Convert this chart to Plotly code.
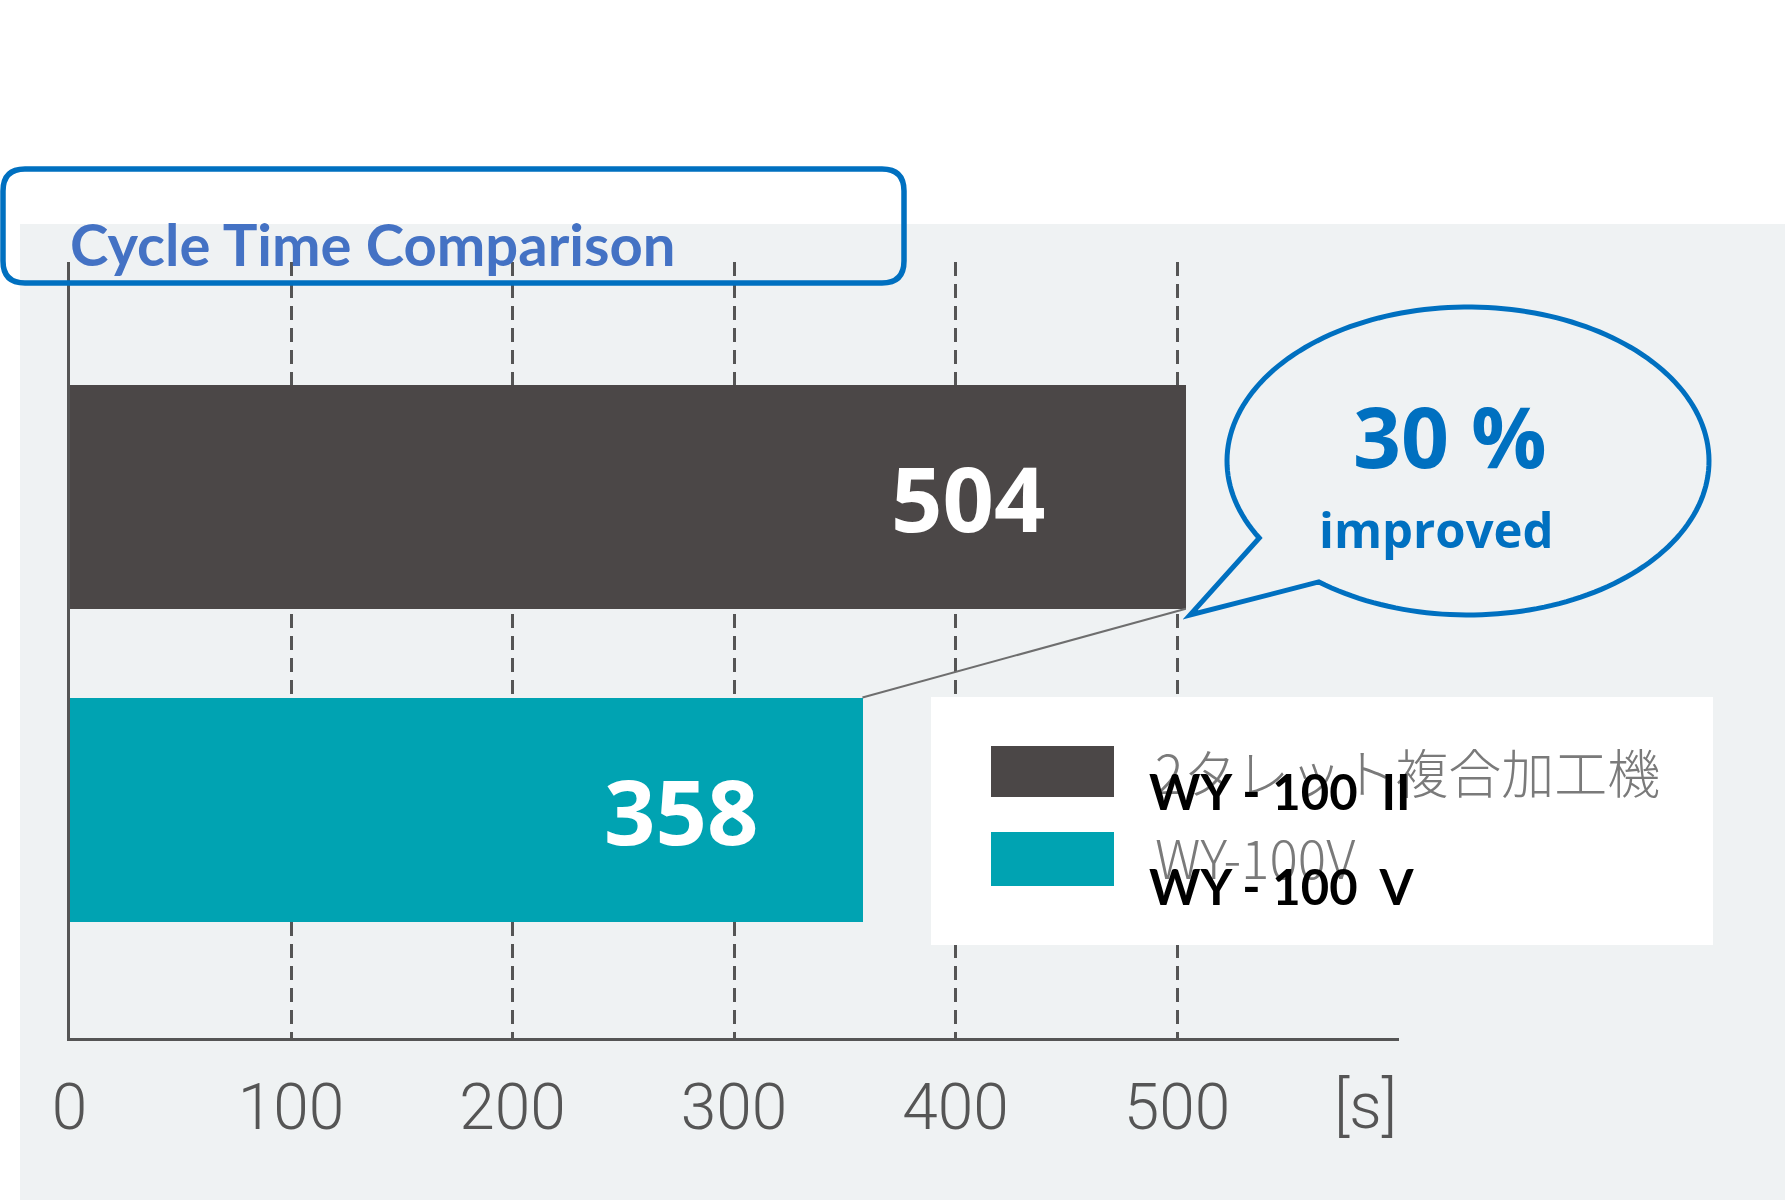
import numpy as np
import plotly.graph_objects as go

W, H = 1785, 1200

# ---------------- data ----------------
categories = ["WY - 100\u00a0 II", "WY - 100\u00a0 V"]
legend_labels_jp = ["2タレット複合加工機", "WY-100V"]
cycle_times = [504, 358]
x_tick_values = [0, 100, 200, 300, 400, 500]
x_tick_labels = ["0", "100", "200", "300", "400", "500"]
unit_label = "[s]"
improvement_label = "30 %"
improvement_caption = "improved"
title_text = "Cycle Time Comparison"

# ---------------- style ----------------
bar_colors = ["#4B4747", "#00A3B2"]
axis_color = "#555555"
blue = "#0070C0"
title_blue = "#4472C4"
bg_gray = "#EFF2F3"
bar_width = 0.716
label_shift = [-139, -102]


def px(x):
    return x / W


def py(y):
    return 1 - y / H


fig = go.Figure()
fig.add_trace(go.Bar(
    y=categories, x=cycle_times, orientation="h",
    marker=dict(color=bar_colors, line=dict(width=0)),
    width=bar_width, showlegend=False, hoverinfo="x+y",
))

shapes = []
# background panel
shapes.append(dict(type="rect", xref="paper", yref="paper",
                   x0=px(20), x1=px(1785), y0=py(1200), y1=py(224),
                   fillcolor=bg_gray, line=dict(width=0), layer="below"))

# title rounded box
x0, x1, y0, y1, r = 3, 904, 169, 283, 22
path = (f"M {px(x0+r)} {py(y0)} L {px(x1-r)} {py(y0)} "
        f"Q {px(x1)} {py(y0)} {px(x1)} {py(y0+r)} L {px(x1)} {py(y1-r)} "
        f"Q {px(x1)} {py(y1)} {px(x1-r)} {py(y1)} L {px(x0+r)} {py(y1)} "
        f"Q {px(x0)} {py(y1)} {px(x0)} {py(y1-r)} L {px(x0)} {py(y0+r)} "
        f"Q {px(x0)} {py(y0)} {px(x0+r)} {py(y0)} Z")
shapes.append(dict(type="path", xref="paper", yref="paper", path=path,
                   line=dict(color=blue, width=5.5), fillcolor="rgba(0,0,0,0)",
                   layer="above"))

# speech bubble
cx, cy, rx, ry = 1468, 461, 241, 154
ax_, ay_ = 1262, 537
bx_, by_ = 1320, 581
tip = (1190, 615)
tA = np.arctan2((ay_ - cy) / ry, (ax_ - cx) / rx)
tB = np.arctan2((by_ - cy) / ry, (bx_ - cx) / rx) + 2 * np.pi
ts = np.linspace(tA, tB, 180)
pts = [(cx + rx * np.cos(t), cy + ry * np.sin(t)) for t in ts]
p = f"M {px(pts[0][0])} {py(pts[0][1])} " + " ".join(
    f"L {px(x)} {py(y)}" for x, y in pts[1:])
p += f" L {px(tip[0])} {py(tip[1])} Z"
shapes.append(dict(type="path", xref="paper", yref="paper", path=p,
                   line=dict(color=blue, width=5), fillcolor="rgba(0,0,0,0)",
                   layer="above"))

# connector line between bar ends
shapes.append(dict(type="line", xref="x", yref="y",
                   x0=cycle_times[1], y0=0 + bar_width / 2,
                   x1=cycle_times[0], y1=1 - bar_width / 2,
                   line=dict(color="#6E6E6E", width=2), layer="above"))

# legend box
shapes.append(dict(type="rect", xref="paper", yref="paper",
                   x0=px(931), x1=px(1713), y0=py(945), y1=py(697),
                   fillcolor="white", line=dict(width=0), layer="above"))
sw = [(746, 797), (832, 886)]
for (a, b), c in zip(sw, bar_colors):
    shapes.append(dict(type="rect", xref="paper", yref="paper",
                       x0=px(991), x1=px(1114), y0=py(b), y1=py(a),
                       fillcolor=c, line=dict(width=0), layer="above"))

annotations = []
# bar value labels
for cat, v, sh in zip(categories, cycle_times, label_shift):
    annotations.append(dict(x=v, y=cat, xref="x", yref="y", text=str(v),
                            xanchor="right", yanchor="middle", xshift=sh,
                            showarrow=False,
                            font=dict(family="Open Sans", size=90, color="white", weight="bold")))
# unit label
annotations.append(dict(x=600, y=py(1106), xref="x", yref="paper", text=unit_label,
                        xanchor="right", yanchor="middle", showarrow=False,
                        font=dict(family="Roboto", size=64, color=axis_color, weight=300)))
# title
annotations.append(dict(x=px(68), y=py(243), xref="paper", yref="paper", text=title_text,
                        xanchor="left", yanchor="middle", showarrow=False,
                        font=dict(family="Lato", size=58, color=title_blue, weight="bold")))
# bubble text
annotations.append(dict(x=px(1450), y=py(436), xref="paper", yref="paper", text=improvement_label,
                        xanchor="center", yanchor="middle", showarrow=False,
                        font=dict(family="Open Sans", size=84, color=blue, weight="bold")))
annotations.append(dict(x=px(1436), y=py(529), xref="paper", yref="paper", text=improvement_caption,
                        xanchor="center", yanchor="middle", showarrow=False,
                        font=dict(family="Open Sans", size=49, color=blue, weight="bold")))
# legend texts
for lab, yc in zip(legend_labels_jp, [771, 856]):
    annotations.append(dict(x=px(1153), y=py(yc), xref="paper", yref="paper", text=lab,
                            xanchor="left", yanchor="middle", showarrow=False,
                            font=dict(family="Noto Sans CJK JP", size=53, color="#7A7A7A",
                                      weight=300)))
for lab, yc in zip(categories, [791, 886]):
    annotations.append(dict(x=px(1147), y=py(yc), xref="paper", yref="paper", text=lab,
                            xanchor="left", yanchor="middle", showarrow=False,
                            font=dict(family="Lato", size=49, color="black", weight="bold")))

fig.update_layout(
    width=W, height=H,
    margin=dict(l=0, r=0, t=0, b=0, autoexpand=False),
    paper_bgcolor="white", plot_bgcolor="rgba(0,0,0,0)",
    shapes=shapes, annotations=annotations,
    bargap=0,
    xaxis=dict(domain=[px(69.5), px(1398.5)], range=[0, 600], automargin=False,
               tickvals=x_tick_values, ticktext=x_tick_labels,
               showgrid=True, gridcolor=axis_color, gridwidth=2.5, griddash="14px,8px",
               showline=True, linecolor=axis_color, linewidth=3, zeroline=False,
               ticks="outside", ticklen=11, tickcolor="rgba(0,0,0,0)",
               tickfont=dict(family="Roboto", size=64, color=axis_color, weight=300)),
    yaxis=dict(domain=[py(1038), py(262)], type="category", automargin=False,
               categoryorder="array", categoryarray=categories[::-1],
               range=[-0.73, 1.75], showticklabels=False, showgrid=False,
               showline=True, linecolor=axis_color, linewidth=3, zeroline=False, ticks=""),
)

fig.write_html("out.html", config={"displayModeBar": False},
               post_script="document.body.style.margin='0';")
